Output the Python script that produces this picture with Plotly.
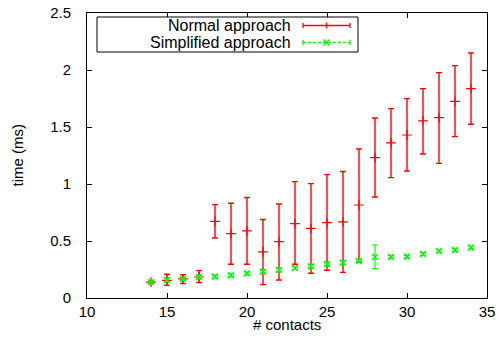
import plotly.graph_objects as go

contacts = [14, 15, 16, 17, 18, 19, 20, 21, 22, 23, 24, 25, 26, 27, 28, 29, 30, 31, 32, 33, 34]

normal_mean = [0.140, 0.155, 0.167, 0.184, 0.673, 0.565, 0.588, 0.404, 0.494, 0.652, 0.611,
               0.661, 0.667, 0.816, 1.231, 1.360, 1.430, 1.553, 1.582, 1.725, 1.837]
normal_low = [0.130, 0.111, 0.126, 0.135, 0.526, 0.296, 0.296, 0.117, 0.158, 0.296, 0.217,
              0.243, 0.225, 0.316, 0.886, 1.056, 1.114, 1.263, 1.181, 1.416, 1.524]
normal_high = [0.150, 0.208, 0.205, 0.240, 0.819, 0.831, 0.881, 0.688, 0.825, 1.021, 1.003,
               1.082, 1.109, 1.307, 1.579, 1.661, 1.749, 1.837, 1.977, 2.038, 2.149]

simpl_mean = [0.140, 0.158, 0.167, 0.184, 0.188, 0.199, 0.216, 0.231, 0.246, 0.263, 0.277,
              0.297, 0.310, 0.325, 0.360, 0.360, 0.363, 0.386, 0.412, 0.421, 0.442]
simpl_low = [0.132, 0.142, 0.152, 0.168, 0.176, 0.188, 0.204, 0.218, 0.233, 0.250, 0.264,
             0.284, 0.297, 0.311, 0.258, 0.347, 0.350, 0.374, 0.400, 0.409, 0.430]
simpl_high = [0.148, 0.174, 0.182, 0.200, 0.200, 0.210, 0.228, 0.244, 0.259, 0.276, 0.290,
              0.310, 0.323, 0.339, 0.465, 0.373, 0.376, 0.398, 0.424, 0.433, 0.454]

x_ticks = [10, 15, 20, 25, 30, 35]
y_ticks = [0, 0.5, 1, 1.5, 2, 2.5]

series_names = ["Normal approach", "Simplified approach"]
RED = "#ff0000"
GREEN = "#00ff00"
FONT = "Liberation Sans, Arial, sans-serif"

fig = go.Figure()

fig.add_trace(go.Scatter(
    x=contacts, y=normal_mean, mode="markers", name=series_names[0],
    marker=dict(symbol="cross-thin", size=7, line=dict(color=RED, width=1.2)),
    error_y=dict(type="data", symmetric=False,
                 array=[h - m for h, m in zip(normal_high, normal_mean)],
                 arrayminus=[m - l for m, l in zip(normal_mean, normal_low)],
                 color=RED, thickness=1.4, width=3),
    showlegend=False,
))

fig.add_trace(go.Scatter(
    x=contacts, y=simpl_mean, mode="markers", name=series_names[1],
    marker=dict(symbol="x-thin", size=6, line=dict(color=GREEN, width=1.6)),
    error_y=dict(type="data", symmetric=False,
                 array=[h - m for h, m in zip(simpl_high, simpl_mean)],
                 arrayminus=[m - l for m, l in zip(simpl_mean, simpl_low)],
                 color=GREEN, thickness=1.2, width=3),
    showlegend=False,
))

# plot area in pixels
L, R, T, B = 87, 12, 13, 53
W, H = 499, 351
pw, ph = W - L - R, H - T - B


def px(x):
    return (x - L) / pw


def py(y):
    return (H - B - y) / ph


shapes = []
annotations = []
# legend box
shapes.append(dict(type="rect", xref="paper", yref="paper",
                   x0=px(97), x1=px(358), y0=py(52), y1=py(17),
                   line=dict(color="black", width=1), fillcolor="white", layer="above"))
rows = [(25.5, RED, "solid", "plus"), (42.5, GREEN, "3px,2px", "x")]
for (yy, col, dash, mk), name in zip(rows, series_names):
    annotations.append(dict(text=name, xref="paper", yref="paper", x=px(293), y=py(yy),
                            xanchor="right", yanchor="middle", showarrow=False,
                            font=dict(family=FONT, size=16, color="black")))
    shapes.append(dict(type="line", xref="paper", yref="paper", x0=px(303), x1=px(350),
                       y0=py(yy), y1=py(yy), line=dict(color=col, width=1.3, dash=dash), layer="above"))
    for xe in (303, 350):
        shapes.append(dict(type="line", xref="paper", yref="paper", x0=px(xe), x1=px(xe),
                           y0=py(yy - 2.5), y1=py(yy + 2.5), line=dict(color=col, width=1.3), layer="above"))
    if mk == "plus":
        shapes.append(dict(type="line", xref="paper", yref="paper", x0=px(326.5), x1=px(326.5),
                           y0=py(yy - 3), y1=py(yy + 3), line=dict(color=col, width=1.3), layer="above"))
    else:
        shapes.append(dict(type="line", xref="paper", yref="paper", x0=px(323.5), x1=px(329.5),
                           y0=py(yy - 3), y1=py(yy + 3), line=dict(color=col, width=1.5), layer="above"))
        shapes.append(dict(type="line", xref="paper", yref="paper", x0=px(323.5), x1=px(329.5),
                           y0=py(yy + 3), y1=py(yy - 3), line=dict(color=col, width=1.5), layer="above"))

annotations.append(dict(text="# contacts", xref="paper", yref="paper", x=0.5, y=py(324),
                        xanchor="center", yanchor="middle", showarrow=False,
                        font=dict(family=FONT, size=15, color="black")))
annotations.append(dict(text="time (ms)", xref="paper", yref="paper", x=px(17), y=0.5,
                        xanchor="center", yanchor="middle", showarrow=False, textangle=-90,
                        font=dict(family=FONT, size=15, color="black")))

axis_common = dict(showline=True, linecolor="black", linewidth=1, mirror="ticks",
                   ticks="inside", ticklen=5, tickcolor="black", tickwidth=1,
                   showgrid=False, zeroline=False, automargin=False,
                   tickfont=dict(family=FONT, size=15, color="black"))

fig.update_layout(
    width=W, height=H,
    margin=dict(l=L, r=R, t=T, b=B, pad=0, autoexpand=False),
    paper_bgcolor="white", plot_bgcolor="white",
    xaxis=dict(range=[10, 35], tickvals=x_ticks, ticklabelstandoff=0, **axis_common),
    yaxis=dict(range=[0, 2.5], tickvals=y_ticks, ticktext=[f"{v:g}" for v in y_ticks],
               ticklabelstandoff=12, **axis_common),
    shapes=shapes, annotations=annotations,
    showlegend=False,
)

fig.write_html("out.html", config={"displayModeBar": False},
               post_script="document.body.style.margin='0';document.body.style.padding='0';")
